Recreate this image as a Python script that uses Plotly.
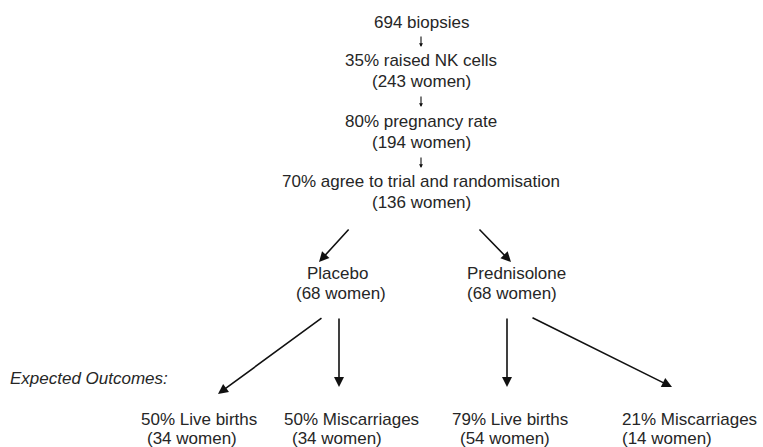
import plotly.graph_objects as go

# ---- data ----
n_biopsies = 694
stage_labels = ["raised NK cells", "pregnancy rate", "agree to trial and randomisation"]
stage_pct = [35, 80, 70]
stage_women = [243, 194, 136]
arm_labels = ["Placebo", "Prednisolone"]
arm_women = [68, 68]
outcome_labels = ["Live births", "Miscarriages", "Live births", "Miscarriages"]
outcome_pct = [50, 50, 79, 21]
outcome_women = [34, 34, 54, 14]
side_label = "Expected Outcomes"

FONT = dict(family="Arial, Liberation Sans, sans-serif", size=17, color="#262626")
W, H = 763, 447

ann = []

def text(x, y, s, xanchor="center", italic=False):
    t = f"<i>{s}</i>" if italic else s
    ann.append(dict(x=x, y=y, xref="x", yref="y", text=t, showarrow=False,
                    xanchor=xanchor, yanchor="middle", font=FONT))

def arrow(x0, y0, x1, y1, width=1.6, size=1.25, head=2):
    ann.append(dict(x=x1, y=y1, ax=x0, ay=y0, xref="x", yref="y", axref="x", ayref="y",
                    text="", showarrow=True, arrowhead=head, arrowsize=size,
                    arrowwidth=width, arrowcolor="#111111", standoff=0, startstandoff=0))

# top chain
cx = 421
text(cx, 22, f"{n_biopsies} biopsies")
line_y = [(60, 81), (121, 142), (181, 202)]
small_arrows = [(35, 47), (95, 107), (156, 168)]
for i, (y1, y2) in enumerate(line_y):
    a0, a1 = small_arrows[i]
    arrow(cx, a0, cx, a1, width=1.1, size=0.7, head=2)
    text(cx, y1, f"{stage_pct[i]}% {stage_labels[i]}")
    text(cx, y2, f"({stage_women[i]} women)")

# arms
arrow(350, 228, 319, 262)
arrow(478, 228, 511, 262)
text(305, 273, arm_labels[0], xanchor="left")
text(294, 293, f"({arm_women[0]} women)", xanchor="left")
text(465, 273, arm_labels[1], xanchor="left")
text(465, 293, f"({arm_women[1]} women)", xanchor="left")

# outcome arrows
arrow(323, 317, 218, 394)
arrow(339, 317, 339, 387)
arrow(507, 317, 507, 387)
arrow(531, 317, 672, 387)

text(8, 378, side_label + ":", xanchor="left", italic=True)

out_x = [(139, 145), (282, 290), (450, 458), (620, 620)]
for i in range(4):
    xa, xb = out_x[i]
    text(xa, 419, f"{outcome_pct[i]}% {outcome_labels[i]}", xanchor="left")
    text(xb, 438, f"({outcome_women[i]} women)", xanchor="left")

fig = go.Figure()
fig.add_trace(go.Scatter(x=[0, W], y=[0, H], mode="markers", marker=dict(opacity=0),
                         hoverinfo="skip", showlegend=False))
fig.update_layout(width=W, height=H, margin=dict(l=0, r=0, t=0, b=0),
                  paper_bgcolor="white", plot_bgcolor="white",
                  xaxis=dict(range=[0, W], visible=False, fixedrange=True),
                  yaxis=dict(range=[H, 0], visible=False, fixedrange=True),
                  annotations=ann, showlegend=False)
fig.write_html("out.html", config={"displayModeBar": False},
               post_script="document.body.style.margin='0';document.body.style.padding='0';document.body.style.overflow='hidden';")
